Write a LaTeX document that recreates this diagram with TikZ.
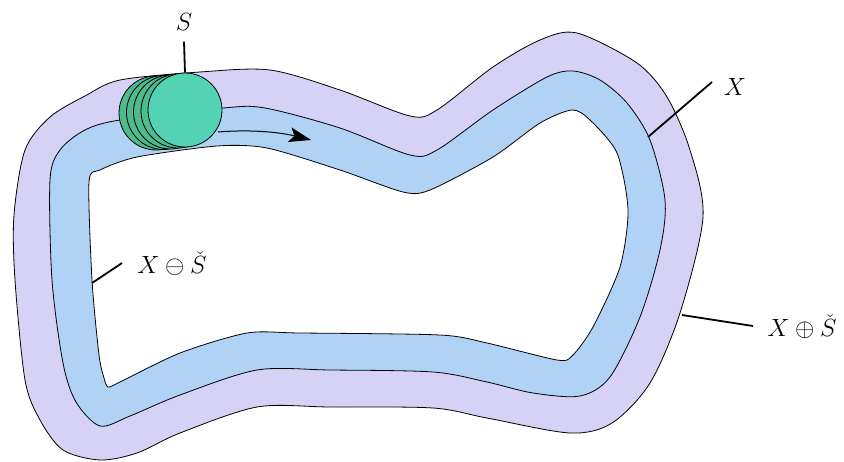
\documentclass[tikz,border=0pt]{standalone}
\usetikzlibrary{arrows.meta}
\definecolor{outerc}{RGB}{214,210,245}
\definecolor{midc}{RGB}{176,210,244}
\definecolor{diskback}{RGB}{77,187,142}
\definecolor{diskfront}{RGB}{83,211,179}
\tikzset{
  region/.style={draw=black, line width=0.8pt, line join=round},
  disk/.style={circle, draw=black, line width=0.8pt, minimum size=74pt, inner sep=0pt},
  lbl/.style={font=\Huge, inner sep=0pt},
  pointer/.style={draw=black, line width=1.8pt},
}
\begin{document}
\begin{tikzpicture}[x=1pt,y=-1pt]
\useasboundingbox (0,0) rectangle (844,461);
% outer region X (+) S
\draw[region, fill=outerc] plot[smooth cycle, tension=0.5] coordinates {
(120,80) (200,72) (270,70) (340,90) (410,116) (437,110) (493,67) (540,40) (577,33)
(637,63) (667,97) (690,150) (703,217) (680,313) (650,383) (612,423) (570,433) (487,418)
(433,408) (330,407) (257,407) (180,433) (137,453) (100,460) (63,450) (40,420) (25,380)
(15,280) (14,215) (25,150) (50,117) (85,96)};
% middle region X
\draw[region, fill=midc] plot[smooth cycle, tension=0.5] coordinates {
(120,120) (223,108) (265,108) (340,128) (410,155) (437,150) (493,110) (547,77) (573,71)
(600,80) (627,103) (650,140) (665,200) (660,250) (640,317) (610,377) (580,396) (533,393)
(487,382) (433,372) (330,370) (257,370) (180,395) (130,416) (100,426) (76,402) (63,363)
(52,280) (50,180) (60,150) (85,130)};
% inner region X (-) S
\draw[region, fill=white] plot[smooth cycle, tension=0.45] coordinates {
(137,157) (217,146) (267,148) (340,170) (403,192) (430,190) (493,157) (540,123) (572,110)
(590,120) (617,153) (628,210) (620,267) (593,327) (572,356) (557,360) (487,343) (440,335)
(300,333) (247,333) (180,353) (118,383) (108,387) (104,378) (99,355) (92,280) (89,182) (100,170)};
% direction arrow
\coordinate (arrA) at (218,132);
\coordinate (arrB) at (311,140);
\draw[line width=1pt, -{Stealth[length=22pt, width=15pt, inset=5pt]}]
  (arrA) .. controls (255,129) and (283,133) .. (arrB);
% structuring element discs
\node[disk, fill=diskback] (d1) at (156,113) {};
\node[disk, fill=diskback] (d2) at (163.5,112.5) {};
\node[disk, fill=diskback] (d3) at (170.5,112) {};
\node[disk, fill=diskback] (d4) at (178,111) {};
\node[disk, fill=diskfront] (d5) at (185,110) {};
% labels
\node[lbl] (S) at (184,22) {$S$};
\draw[pointer] (S.south) ++(0,11) coordinate (Sl) -- (d5.north);
\node[lbl] (X) at (735,87) {$X$};
\coordinate (Xa) at (712,82);
\coordinate (Xb) at (648,137);
\draw[pointer] (Xa) -- (Xb);
\node[lbl] (Ero) at (172,264) {$X\ominus\check{S}$};
\coordinate (Ea) at (122,263);
\coordinate (Eb) at (92,283);
\draw[pointer] (Ea) -- (Eb);
\node[lbl] (Dil) at (802,327) {$X\oplus\check{S}$};
\coordinate (Da) at (753,326);
\coordinate (Db) at (682,315);
\draw[pointer] (Da) -- (Db);
\end{tikzpicture}
\end{document}
